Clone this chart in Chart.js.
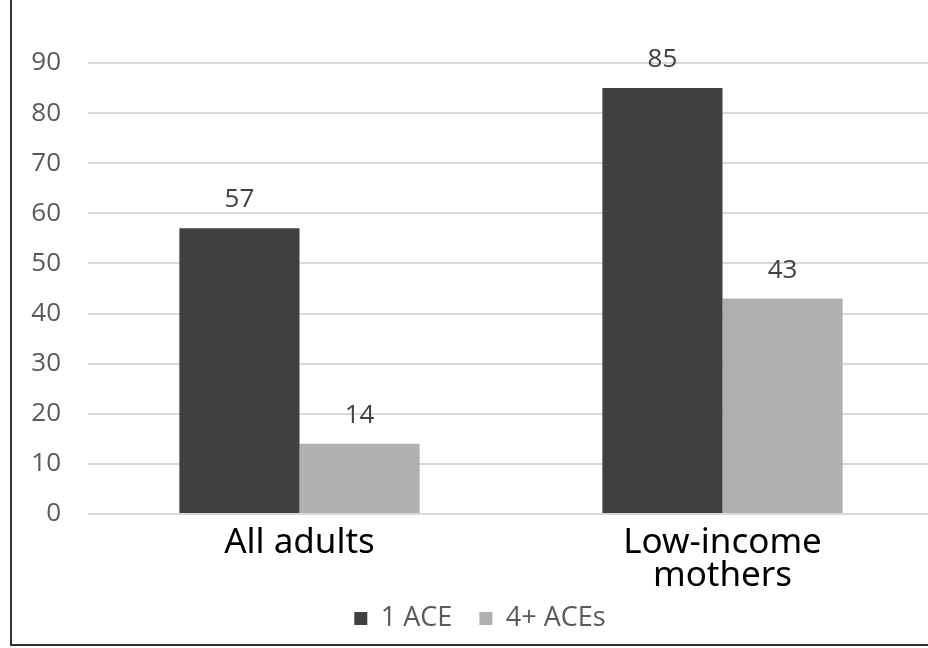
<!DOCTYPE html>
<html>
<head>
<meta charset="utf-8">
<script src="https://cdn.jsdelivr.net/npm/chart.js@4.4.1/dist/chart.umd.min.js"></script>
<style>
  html, body { margin: 0; padding: 0; background: #fff; overflow: hidden; }
  #wrap { position: relative; width: 928px; height: 648px; overflow: hidden; }
  #box { position: absolute; left: 0; top: 0; width: 960px; height: 648px; }
  .frame-left { position: absolute; left: 10px; top: 0; width: 2px; height: 646px; background: #333; }
  .frame-bottom { position: absolute; left: 10px; top: 644px; width: 918px; height: 2px; background: #333; }
</style>
</head>
<body>
<div id="wrap">
  <div id="box"><canvas id="aceChart" width="960" height="648"></canvas></div>
  <div class="frame-left"></div>
  <div class="frame-bottom"></div>
</div>
<script>
// Chart values
const categories = [["All adults"], ["Low-income", "mothers"]];
const seriesNames = ["1 ACE", "4+ ACEs"];
const oneAce = [57, 85];
const fourPlusAces = [14, 43];
const yTicks = [0, 10, 20, 30, 40, 50, 60, 70, 80, 90];

const tickFont = "'Open Sans', 'Noto Sans', sans-serif";

// Draw the value above each bar
const valueLabels = {
    id: 'valueLabels',
    afterDatasetsDraw(chart) {
        const ctx = chart.ctx;
        ctx.save();
        ctx.font = "26px " + tickFont;
        ctx.fillStyle = "#404040";
        ctx.textAlign = "center";
        ctx.textBaseline = "alphabetic";
        chart.data.datasets.forEach((ds, i) => {
            chart.getDatasetMeta(i).data.forEach((bar, j) => {
                ctx.fillText(ds.data[j], bar.x, bar.y - 21);
            });
        });
        ctx.restore();
    }
};

const ctx = document.getElementById('aceChart').getContext('2d');
const aceChart = new Chart(ctx, {
    type: 'bar',
    data: {
        labels: categories,
        datasets: [
            {
                label: seriesNames[0],
                data: oneAce,
                backgroundColor: "#404040",
                barPercentage: 1,
                categoryPercentage: 0.568
            },
            {
                label: seriesNames[1],
                data: fourPlusAces,
                backgroundColor: "#b0b0b0",
                barPercentage: 1,
                categoryPercentage: 0.568
            }
        ]
    },
    options: {
        responsive: false,
        animation: false,
        layout: {
            // left padding + y axis width = 88, nudges the legend right like the original
            padding: { top: 63, left: 26, right: 26, bottom: 6 }
        },
        plugins: {
            legend: {
                position: 'bottom',
                labels: {
                    boxWidth: 13,
                    boxHeight: 13,
                    padding: 6,
                    color: "#595959",
                    font: { size: 27, family: tickFont },
                    // a little extra room between the two entries
                    generateLabels(chart) {
                        const items = Chart.defaults.plugins.legend.labels.generateLabels(chart);
                        items[0].text = items[0].text + "   ";
                        return items;
                    }
                }
            },
            tooltip: { enabled: false }
        },
        scales: {
            x: {
                grid: { display: false },
                border: { display: false },
                ticks: {
                    color: "#000",
                    padding: 4,
                    font: { size: 35, family: "'Noto Sans', 'Open Sans', sans-serif", lineHeight: 0.95 }
                },
                afterFit(scale) { scale.height = 85; }
            },
            y: {
                min: 0,
                max: 90,
                afterBuildTicks(scale) { scale.ticks = yTicks.map(v => ({ value: v })); },
                grid: { color: "#d9d9d9", lineWidth: 2, drawTicks: false },
                border: { display: false },
                ticks: {
                    color: "#595959",
                    padding: 27,
                    font: { size: 26, family: tickFont }
                },
                afterFit(scale) { scale.width = 62; }
            }
        }
    },
    plugins: [valueLabels]
});
</script>
</body>
</html>
